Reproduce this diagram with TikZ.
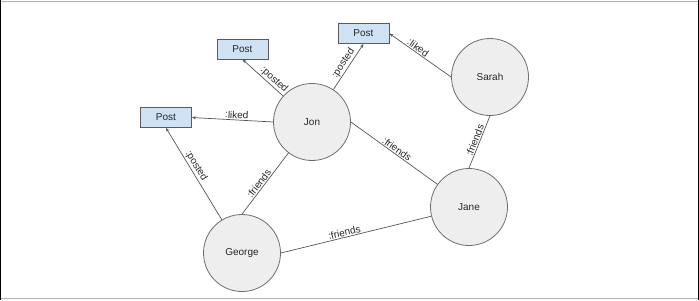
\documentclass[tikz,border=0pt]{standalone}
\usepackage{fontspec}
\setmainfont{Liberation Sans}
\usetikzlibrary{arrows.meta}
\definecolor{nodefill}{HTML}{EEEEEE}
\definecolor{nodeline}{HTML}{6E6E6E}
\definecolor{postfill}{HTML}{CFE2F3}
\definecolor{postline}{HTML}{5A5A5A}
\definecolor{edgecol}{HTML}{555555}
\begin{document}
\begin{tikzpicture}[x=1pt,y=-1pt,
  person/.style={circle,draw=nodeline,fill=nodefill,line width=0.8pt,minimum size=77pt,inner sep=0pt,font=\fontsize{10}{12}\selectfont,text=black!85},
  post/.style={rectangle,draw=postline,fill=postfill,line width=0.8pt,minimum width=51pt,minimum height=20pt,inner sep=0pt,font=\fontsize{10}{12}\selectfont,text=black!85},
  rel/.style={draw=edgecol,line width=0.7pt},
  arr/.style={rel,-{Stealth[length=4pt,width=3pt]}},
  lbl/.style={sloped,above,inner sep=1pt,font=\fontsize{10}{11}\selectfont,text=black!85}]
\useasboundingbox (0,0) rectangle (699,300);
\draw[gray!60,line width=0.8pt] (0,1.5) -- (699,1.5) (0,298.5) -- (699,298.5);
\draw[black,line width=1.2pt] (0.6,0) -- (0.6,300) (698.4,0) -- (698.4,300);
\node[person] (jon) at (312,122) {Jon};
\node[person] (sarah) at (490,77) {Sarah};
\node[person] (jane) at (469,207) {Jane};
\node[person] (george) at (242,253) {George};
\node[post] (p1) at (242.5,49) {Post};
\node[post] (p2) at (363.5,33.5) {Post};
\node[post] (p3) at (166,117.5) {Post};
\draw[arr] (jon) -- node[lbl,pos=0.32] {:posted} (p1.south);
\draw[arr] (jon) -- node[lbl,pos=0.5] {:posted} (p2.south);
\draw[arr] (jon.west) -- node[lbl,pos=0.45] {:liked} (p3.east);
\draw[arr] (sarah.west) -- node[lbl,pos=0.58] {:liked} (p2.east);
\draw[arr] (george) -- node[lbl,pos=0.55] {:posted} (p3.south);
\draw[rel] (jon.east) -- node[lbl,pos=0.5] {:friends} (jane);
\draw[rel] (sarah.south) -- node[lbl,pos=0.5] {:friends} (jane.north);
\draw[rel] (george.north) -- node[lbl,pos=0.45] {:friends} (jon);
\draw[rel] (george.east) -- node[lbl,pos=0.43] {:friends} (jane);
\end{tikzpicture}
\end{document}
